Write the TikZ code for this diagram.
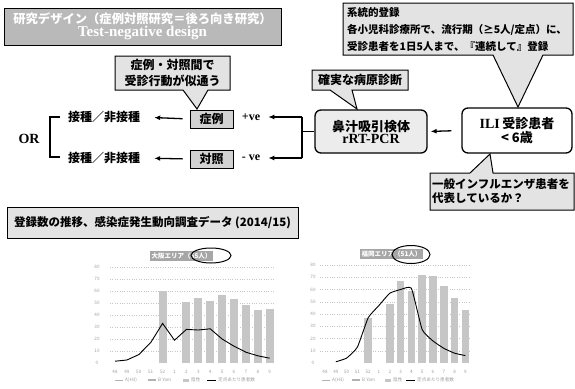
\documentclass[tikz,border=0pt]{standalone}
\usepackage{fontspec}
\setmainfont{Liberation Serif}
\newfontfamily\jp{Noto Sans CJK JP}
\usetikzlibrary{arrows.meta}
\begin{document}
\begin{tikzpicture}[x=1pt,y=-1pt,
  callout/.style={draw=black,line width=1pt,fill=gray!22,line join=miter},
  arr/.style={-{Latex[length=6pt,width=5pt]},line width=1.3pt},
  jpb/.style={font=\jp\bfseries\fontsize{#1}{#1}\selectfont},
  rbox/.style={draw,line width=1.3pt,rounded corners=6pt,align=center,inner sep=0pt},
  sbox/.style={draw,line width=0.9pt,fill=gray!35,minimum width=43pt,minimum height=18pt,inner sep=0pt},
  tiny/.style={font=\jp\fontsize{4.6}{5}\selectfont,text=gray!75,inner sep=0pt},
  bar/.style={fill=gray!45},
  grid/.style={gray!45,dotted,line width=0.4pt}
]
\useasboundingbox (0,0) rectangle (575,388);

% ---------- title ----------
\node[draw,line width=1pt,fill=gray!55,minimum width=277pt,minimum height=37pt,align=center,text=white,inner sep=0pt]
  (title) at (142.5,26.5)
  {{\jp\bfseries\fontsize{12.3}{14}\selectfont 研究デザイン（症例対照研究＝後ろ向き研究）}\\[1pt]
   {\bfseries\fontsize{15}{15}\selectfont Test-negative design}};

% ---------- top-right callout ----------
\draw[callout] (343,3) -- (573,3) -- (573,55) -- (543,55) -- (518,107) -- (493,55) -- (343,55) -- cycle;
\node[anchor=west,align=left,font=\jp\bfseries\fontsize{10.5}{17}\selectfont,inner sep=0pt]
  (reg) at (347,29.5) {系統的登録\\各小児科診療所で、流行期（≥5人/定点）に、\\受診患者を1日5人まで、『連続して』登録};

% ---------- main boxes ----------
\node[rbox,fill=white,minimum width=110pt,minimum height=45pt] (ili) at (517,130.5)
  {{\bfseries\fontsize{14}{18}\selectfont ILI} {\jp\bfseries\fontsize{13}{18}\selectfont 受診患者}\\
   {\jp\bfseries\fontsize{13}{18}\selectfont < 6歳}};
\node[rbox,fill=gray!15,minimum width=112pt,minimum height=43pt] (nasal) at (371,131.5)
  {{\jp\bfseries\fontsize{13}{18}\selectfont 鼻汁吸引検体}\\
   {\bfseries\fontsize{14}{18}\selectfont rRT-PCR}};

% callout: reliable diagnosis
\draw[callout] (312,70) -- (408,70) -- (408,90) -- (352,90) -- (357,109) -- (330,90) -- (312,90) -- cycle;
\node[jpb=12,inner sep=0pt] (diag) at (360,80) {確実な病原診断};

% callout: representative?
\draw[callout] (430,173) -- (470,173) -- (490,154) -- (493,173) -- (574,173) -- (574,210) -- (430,210) -- cycle;
\node[anchor=west,align=left,font=\jp\bfseries\fontsize{11.5}{14}\selectfont,inner sep=0pt]
  (rep) at (432,191.5) {一般インフルエンザ患者を\\代表しているか？};

% callout: similar behaviour
\draw[callout] (115,56) -- (230,56) -- (230,90) -- (208,90) -- (197,109) -- (183,90) -- (115,90) -- cycle;
\node[align=center,font=\jp\bfseries\fontsize{12}{16}\selectfont,inner sep=0pt]
  (sim) at (172.5,73) {症例・対照間で\\受診行動が似通う};

% case / control
\node[sbox,jpb=12] (case) at (211.5,119) {症例};
\node[sbox,jpb=12] (ctrl) at (211.5,159) {対照};
\node[font=\bfseries\fontsize{12}{12}\selectfont,inner sep=0pt] (pve) at (251,117) {+ve};
\node[font=\bfseries\fontsize{12}{12}\selectfont,inner sep=0pt] (nve) at (251,158) {- ve};
\node[jpb=12,inner sep=0pt] (v1) at (104,117) {接種／非接種};
\node[jpb=12,inner sep=0pt] (v2) at (104,158) {接種／非接種};
\node[font=\bfseries\fontsize{14}{14}\selectfont,inner sep=0pt] (or) at (29,139) {OR};

% connectors
\draw[arr,shorten <=10pt,shorten >=3pt] (ili.west) -- (nasal.east);
\coordinate (bt) at (302,117);
\coordinate (bb) at (302,158);
\coordinate (bm) at (302,131.5);
\draw[line width=1.3pt] (nasal.west) -- (bm);
\draw[line width=1.3pt] (bt) -- (bb);
\draw[arr,shorten >=8pt] (bt) -- (pve.east);
\draw[arr,shorten >=8pt] (bb) -- (nve.east);
\draw[arr,shorten <=7pt,shorten >=14pt] (case.west) -- (v1.east);
\draw[arr,shorten <=7pt,shorten >=14pt] (ctrl.west) -- (v2.east);
\draw[line width=1.3pt] (60,117) -- (50,117) -- (50,157) -- (60,157);

% ---------- lower header ----------
\node[draw,line width=0.9pt,fill=gray!22,minimum width=291pt,minimum height=31pt,inner sep=0pt,
  font=\jp\bfseries\fontsize{11.5}{12}\selectfont] (hdr) at (152.5,222.5)
  {登録数の推移、感染症発生動向調査データ (2014/15)};

% ---------- left chart ----------
\foreach \v in {10,20,...,80} \draw[grid] (110,{363-1.2*\v}) -- (275,{363-1.2*\v});
\foreach \i/\v in {4/60,6/51,7/54,8/52,9/57,10/53,11/48,12/44,13/45}
  \fill[bar] ({115+11.9*\i-4},363) rectangle ({115+11.9*\i+4},{363-1.2*\v});
\draw[line width=0.9pt] plot coordinates {(115,361.2) (126.9,360) (138.8,354.6) (150.7,342.6) (162.6,323.4) (174.5,340.2) (186.4,329.4) (198.3,330) (210.2,328.8) (222.1,339) (234,346.2) (245.9,352.2) (257.8,355.8) (269.7,358.2)};
\foreach \v in {0,10,...,80} \node[tiny] at (97,{363-1.2*\v}) {\v};
\foreach \l [count=\i from 0] in {48,49,50,51,52,1,2,3,4,5,6,7,8,9}
  \node[tiny] at ({115+11.9*\i},372) {\l};
\node[fill=gray!70,text=white,font=\jp\bfseries\fontsize{6.5}{7}\selectfont,inner sep=1.5pt] (lt) at (181.5,256) {大阪エリア（65人）};
\draw[line width=1pt] (211,255.5) ellipse [x radius=20,y radius=7.5];
\draw[gray!60,line width=0.8pt] (115,380) -- (123,380);
\node[tiny,anchor=west] at (125,380) {A(H3)};
\draw[gray!60,line width=1.2pt] (148,380) -- (156,380);
\node[tiny,anchor=west] at (158,380) {B Yam};
\fill[gray!45] (183,378.5) rectangle (189,381.5);
\node[tiny,anchor=west] at (191,380) {陰性};
\draw[line width=0.7pt] (207,380) -- (216,380);
\node[tiny,anchor=west] at (218,380) {定点あたり患者数};

% ---------- right chart ----------
\foreach \v in {10,20,...,80} \draw[grid] (320,{363-1.225*\v}) -- (470,{363-1.225*\v});
\foreach \i/\v in {4/37,6/48,7/67,8/59,9/72,10/71,11/63,12/53,13/43}
  \fill[bar] ({325+10.8*\i-3.8},363) rectangle ({325+10.8*\i+3.8},{363-1.225*\v});
\draw[line width=0.9pt] plot[smooth,tension=0.25] coordinates {(335.8,361.8) (346.6,358.1) (357.4,347.1) (368.2,317.7) (379,305.4) (389.8,293.2) (400.6,289.5) (411.4,288.3) (422.2,329.7) (433,341) (443.8,348.3) (454.6,353.2) (465.4,355.6)};
\foreach \v in {0,10,...,80} \node[tiny] at (313,{363-1.225*\v}) {\v};
\foreach \l [count=\i from 0] in {48,49,50,51,52,1,2,3,4,5,6,7,8,9}
  \node[tiny] at ({325+10.8*\i},372) {\l};
\node[fill=gray!70,text=white,font=\jp\bfseries\fontsize{6.5}{7}\selectfont,inner sep=1.5pt] (rt) at (391.5,254) {福岡エリア（51人）};
\draw[line width=1pt] (411,254.5) ellipse [x radius=19,y radius=9];
\draw[gray!60,line width=0.8pt] (322,380) -- (330,380);
\node[tiny,anchor=west] at (332,380) {A(H3)};
\draw[gray!60,line width=1.2pt] (352,380) -- (360,380);
\node[tiny,anchor=west] at (362,380) {B Yam};
\fill[gray!45] (385,378.5) rectangle (391,381.5);
\node[tiny,anchor=west] at (393,380) {陰性};
\draw[line width=0.7pt] (406,380) -- (415,380);
\node[tiny,anchor=west] at (417,380) {定点あたり患者数};
\end{tikzpicture}
\end{document}
